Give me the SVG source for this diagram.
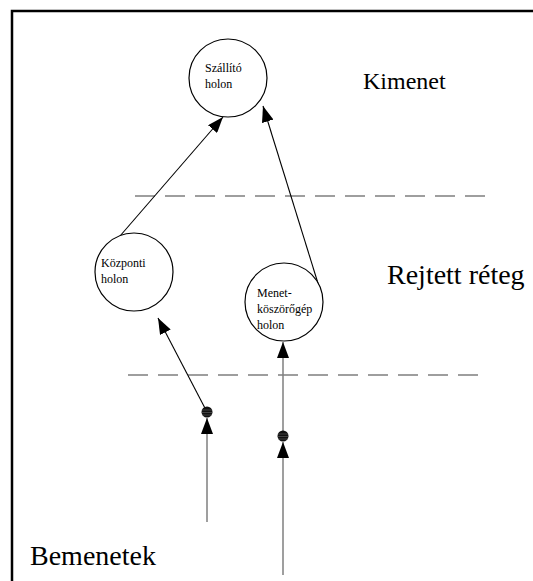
<svg xmlns="http://www.w3.org/2000/svg" width="533" height="581" viewBox="0 0 533 581">
  <style>
    .frame { fill: none; stroke: #000; stroke-width: 2.5; }
    .node { fill: #fff; stroke: #000; stroke-width: 1.2; }
    .small { font-family: "Liberation Serif", "Times New Roman", serif; font-size: 12px; fill: #000; }
    .big { font-family: "Liberation Serif", "Times New Roman", serif; font-size: 28px; fill: #000; }
    .dash { stroke: #7f7f7f; stroke-width: 1.3; stroke-dasharray: 20 10; fill: none; }
    .edge { stroke: #000; stroke-width: 1.1; fill: none; }
    .input { stroke: #7f7f7f; stroke-width: 1.5; fill: none; }
    .dot { fill: #111; }
    .hatch { stroke: #666; stroke-width: 0.6; }
  </style>
  <defs>
    <marker id="arrow" viewBox="0 0 16 12" refX="16" refY="6" markerWidth="16" markerHeight="12" markerUnits="userSpaceOnUse" orient="auto">
      <path d="M0,0 L16,6 L0,12 Z" fill="#000"/>
    </marker>
  </defs>

  <rect width="533" height="581" fill="#fff"/>
  <!-- open frame: top and left edges only visible -->
  <path class="frame" d="M12,600 L12,11 L560,11"/>

  <!-- layer separators -->
  <line class="dash" x1="135" y1="196" x2="490" y2="196"/>
  <line class="dash" x1="128" y1="375" x2="482" y2="375"/>

  <g id="connectors">
    <line class="edge" x1="120" y1="236" x2="223" y2="117" marker-end="url(#arrow)"/>
    <line class="edge" x1="321" y1="293" x2="263" y2="106" marker-end="url(#arrow)"/>
    <line class="edge" x1="207" y1="412" x2="158" y2="318" marker-end="url(#arrow)"/>
    <line class="input" x1="283" y1="436" x2="283" y2="342" marker-end="url(#arrow)"/>
    <line class="input" x1="207" y1="522" x2="207" y2="418" marker-end="url(#arrow)"/>
    <line class="input" x1="283" y1="575" x2="283" y2="442" marker-end="url(#arrow)"/>
  </g>

  <g id="input-dots">
    <circle class="dot" cx="207" cy="412" r="5.5"/>
    <line class="hatch" x1="202" y1="410" x2="212" y2="410"/>
    <line class="hatch" x1="201.5" y1="412.5" x2="212.5" y2="412.5"/>
    <line class="hatch" x1="202" y1="415" x2="212" y2="415"/>
    <circle class="dot" cx="283" cy="436" r="5.5"/>
    <line class="hatch" x1="278" y1="434" x2="288" y2="434"/>
    <line class="hatch" x1="277.5" y1="436.5" x2="288.5" y2="436.5"/>
    <line class="hatch" x1="278" y1="439" x2="288" y2="439"/>
  </g>

  <g id="szallito">
    <circle class="node" cx="228" cy="78" r="39"/>
    <text class="small" x="205" y="72">Szállító</text>
    <text class="small" x="205" y="88">holon</text>
  </g>

  <g id="kozponti">
    <circle class="node" cx="134" cy="272" r="39"/>
    <text class="small" x="101" y="267">Központi</text>
    <text class="small" x="101" y="283">holon</text>
  </g>

  <g id="menet">
    <circle class="node" cx="284" cy="302" r="39"/>
    <text class="small" x="257" y="297">Menet-</text>
    <text class="small" x="257" y="313">köszörőgép</text>
    <text class="small" x="257" y="329">holon</text>
  </g>

  <g id="labels">
    <text class="big" x="363" y="89" style="font-size:24px">Kimenet</text>
    <text class="big" x="387" y="284">Rejtett réteg</text>
    <text class="big" x="30" y="565">Bemenetek</text>
  </g>
</svg>
